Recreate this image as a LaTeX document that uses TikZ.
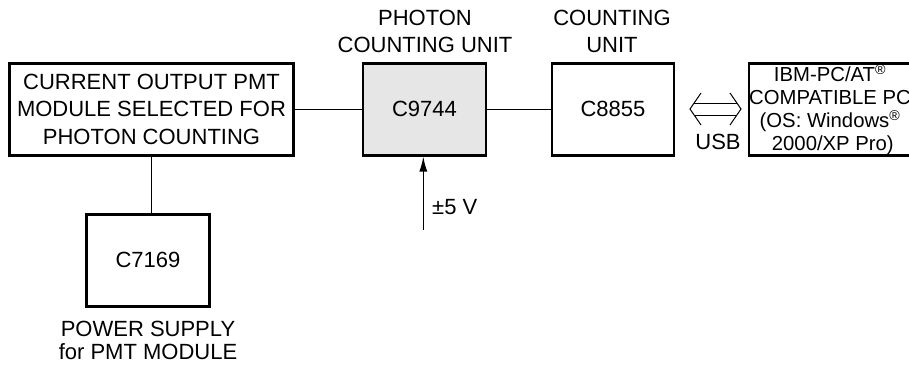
\documentclass[tikz,border=0pt]{standalone}
\usepackage{fontspec}
\setmainfont{Liberation Sans}
\usetikzlibrary{arrows.meta}
\definecolor{boxgray}{RGB}{230,230,230}
\begin{document}
\begin{tikzpicture}[x=1pt,y=-1pt,
  box/.style={draw, line width=2.6pt, inner sep=0pt, align=center},
  conn/.style={line width=1.3pt},
  lbl/.style={inner sep=0pt, align=center},
  font=\fontsize{22}{27.5}\selectfont]
\useasboundingbox (0,0) rectangle (909,367);
\node[box, minimum width=284, minimum height=92] (pmt) at (151.5,109.2)
  {CURRENT OUTPUT PMT\\MODULE SELECTED FOR\\PHOTON COUNTING};
\node[box, fill=boxgray, minimum width=123, minimum height=92] (pcu) at (424.5,109.2) {C9744};
\node[box, minimum width=122, minimum height=92] (cu) at (613,109.2) {C8855};
\node[box, minimum width=153.5, minimum height=92, font=\fontsize{20.3}{23}\selectfont] (pc) at (830,109.5)
  {IBM-PC/AT\textsuperscript{®}\\COMPATIBLE PC\\(OS: Windows\textsuperscript{®}\\\ 2000/XP Pro)};
\node[box, minimum width=123, minimum height=92] (ps) at (148,260.3) {C7169};

\node[lbl] (pcul) at (425,31.5) {PHOTON\\COUNTING UNIT};
\node[lbl] (cul) at (612,31.5) {COUNTING\\UNIT};
\node[lbl, font=\fontsize{22}{23}\selectfont] (psl) at (148,340) {POWER SUPPLY\\for PMT MODULE};

\draw[conn] (pmt.east) -- (pcu.west);
\draw[conn] (pcu.east) -- (cu.west);
\draw[conn] (pmt.south) -- (pmt.south |- ps.north);

\coordinate (vin) at (423.3,230);
\draw[conn, -{Latex[length=15pt,width=8pt]}] (vin) -- (vin |- pcu.south);
\node[lbl, anchor=west] (vl) at (432,206.7) {±5 V};

% USB double arrow
\draw[line width=1pt, line join=miter]
  (701,93) -- (690,109) -- (701,125)
  (730,93) -- (741,109) -- (730,125);
\draw[line width=1pt] (694.2,103) -- (736.8,103) (694.2,115) -- (736.8,115);
\node[lbl] (usb) at (718,141.7) {USB};
\end{tikzpicture}
\end{document}
